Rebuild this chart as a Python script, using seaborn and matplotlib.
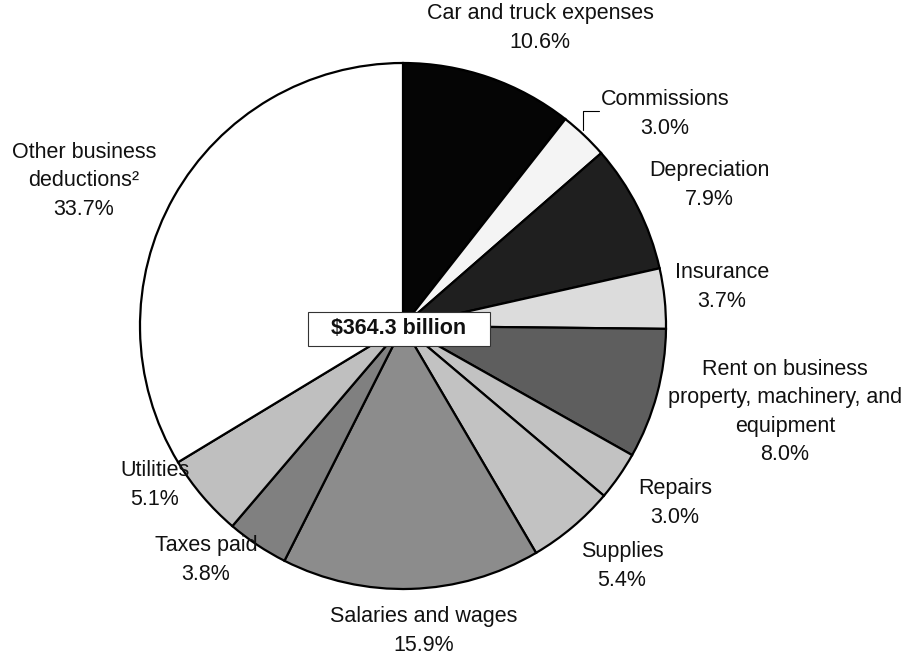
import matplotlib
matplotlib.use("Agg")
import matplotlib.pyplot as plt
from matplotlib.lines import Line2D
from matplotlib.patches import Rectangle
import seaborn as sns

categories = ["Car and truck expenses", "Commissions", "Depreciation", "Insurance",
              "Rent on business\nproperty, machinery, and\nequipment", "Repairs", "Supplies",
              "Salaries and wages", "Taxes paid", "Utilities", "Other business\ndeductions\u00b2"]
values = [10.6, 3.0, 7.9, 3.7, 8.0, 3.0, 5.4, 15.9, 3.8, 5.1, 33.7]
colors = ["#050505", "#f4f4f4", "#1f1f1f", "#dcdcdc", "#5e5e5e", "#c2c2c2", "#c2c2c2",
          "#8c8c8c", "#808080", "#bfbfbf", "#ffffff"]
total_label = "$364.3 billion"

# label anchor positions in pixels (x, y from top)
label_pos = [(540, 28), (665, 114), (709, 185), (722, 287), (785, 412), (675, 503),
             (622, 566), (424, 631), (206, 560), (155, 485), (84, 181)]

sns.set_theme(style="white")
plt.rcParams['font.family'] = ['Liberation Sans', 'DejaVu Sans']

W, H = 906, 656
fig = plt.figure(figsize=(W / 100, H / 100), dpi=100)
cx, cy, r = 403, 326, 263
ax = fig.add_axes([(cx - r) / W, 1 - (cy + r) / H, 2 * r / W, 2 * r / H])
ax.pie(values, colors=colors, startangle=90, counterclock=False, radius=1,
       wedgeprops=dict(edgecolor="black", linewidth=1.6))
ax.set_xlim(-1, 1)
ax.set_ylim(-1, 1)
ax.set_aspect("equal")
ax.axis("off")

for cat, val, (px, py) in zip(categories, values, label_pos):
    fig.text(px / W, 1 - py / H, f"{cat}\n{val:.1f}%", ha="center", va="center",
             fontsize=15.5, color="#111111", linespacing=1.45)

# leader line for Commissions
fig.add_artist(Line2D([599 / W, 583 / W, 583 / W], [1 - 111 / H, 1 - 111 / H, 1 - 130 / H],
                      transform=fig.transFigure, color="black", linewidth=0.8))

# total box
bx0, by0, bx1, by1 = 308, 312, 490, 346
fig.add_artist(Rectangle((bx0 / W, 1 - by1 / H), (bx1 - bx0) / W, (by1 - by0) / H,
                         transform=fig.transFigure, facecolor="white",
                         edgecolor="#333333", linewidth=0.8, zorder=5))
fig.text((bx0 + bx1) / 2 / W, 1 - (by0 + by1) / 2 / H, total_label, ha="center", va="center",
         fontsize=15.5, fontweight="bold", color="#111111", zorder=6)

fig.savefig("out.png", dpi=100)
